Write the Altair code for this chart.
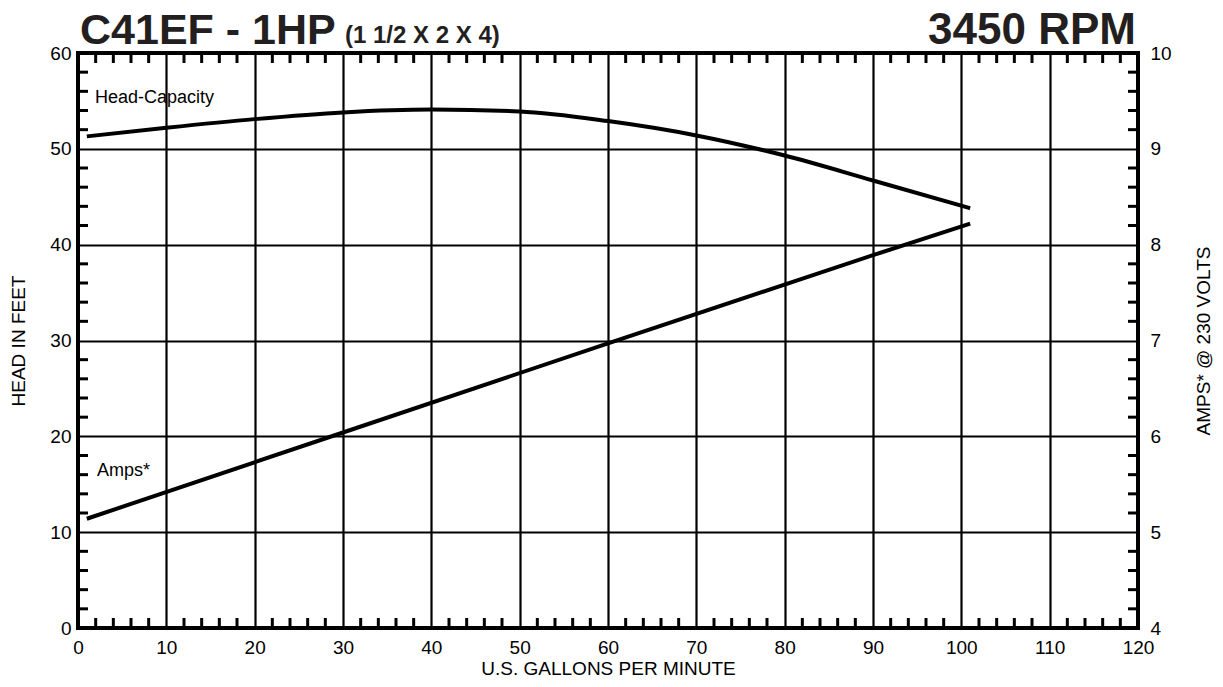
import altair as alt
import pandas as pd

# ---- data ----
head_gpm = [1, 10, 20, 30, 40, 50, 60, 70, 80, 90, 101]
head_ft = [51.3, 52.2, 53.1, 53.8, 54.1, 53.9, 52.9, 51.4, 49.3, 46.7, 43.8]

amps_gpm = [1, 30, 60, 90, 101]
amps_val = [5.14, 6.04, 6.97, 7.89, 8.22]

x_major = list(range(0, 121, 10))
y_major = list(range(0, 61, 10))
amps_major = [4, 5, 6, 7, 8, 9, 10]
x_minor = [v for v in range(0, 121, 2) if v % 10 != 0]
y_minor = [v for v in range(0, 61, 2) if v % 10 != 0]

title_main = "C41EF - 1HP"
title_sub = "(1 1/2 X 2 X 4)"
title_rpm = "3450 RPM"

W, H = 1060, 575
FONT = "Liberation Sans"

head_df = pd.DataFrame({"gpm": head_gpm, "head": head_ft})
amps_df = pd.DataFrame({"gpm": amps_gpm, "amps": amps_val})
xminor_df = pd.DataFrame({"gpm": x_minor})
yminor_df = pd.DataFrame({"head": y_minor})

xscale = alt.Scale(domain=[0, 120], nice=False, zero=False)
yscale = alt.Scale(domain=[0, 60], nice=False, zero=False)
ascale = alt.Scale(domain=[4, 10], nice=False, zero=False)

xaxis = alt.Axis(values=x_major, grid=True, gridColor="black", gridWidth=2.2,
                 gridOpacity=1, domain=False, ticks=False, labelPadding=10,
                 labelFontSize=19, labelFont=FONT, labelColor="black",
                 title="U.S. GALLONS PER MINUTE", titleFont=FONT,
                 titleFontSize=19, titleFontWeight="normal", titleColor="black",
                 titlePadding=2, labelFlush=False)
yaxis = alt.Axis(values=y_major, grid=True, gridColor="black", gridWidth=2.2,
                 gridOpacity=1, domain=False, ticks=False, labelPadding=7,
                 labelFontSize=19, labelFont=FONT, labelColor="black",
                 title="HEAD IN FEET", titleFont=FONT, titleFontSize=19,
                 titleFontWeight="normal", titleColor="black", titlePadding=21,
                 labelFlush=False)
aaxis = alt.Axis(values=amps_major, grid=False, domain=False, ticks=False,
                 labelPadding=12, labelFontSize=19, labelFont=FONT,
                 labelColor="black", title="AMPS* @ 230 VOLTS", titleFont=FONT,
                 titleFontSize=19, titleFontWeight="normal", titleColor="black",
                 titlePadding=42, titleAngle=270, orient="right",
                 labelFlush=False)

head_line = alt.Chart(head_df).mark_line(
    color="black", strokeWidth=4, interpolate="monotone"
).encode(
    x=alt.X("gpm:Q", scale=xscale, axis=xaxis),
    y=alt.Y("head:Q", scale=yscale, axis=yaxis),
)

rule_style = dict(color="black", strokeWidth=3)

x_bottom = alt.Chart(xminor_df).mark_rule(**rule_style).encode(
    x=alt.X("gpm:Q", scale=xscale), y=alt.value(H), y2=alt.value(H - 10))
x_top = alt.Chart(xminor_df).mark_rule(**rule_style).encode(
    x=alt.X("gpm:Q", scale=xscale), y=alt.value(0), y2=alt.value(10))
y_left = alt.Chart(yminor_df).mark_rule(**rule_style).encode(
    y=alt.Y("head:Q", scale=yscale), x=alt.value(0), x2=alt.value(10))
y_right = alt.Chart(yminor_df).mark_rule(**rule_style).encode(
    y=alt.Y("head:Q", scale=yscale), x=alt.value(W), x2=alt.value(W - 10))

lbl_df = pd.DataFrame({"t": ["Head-Capacity"]})
lbl_head = alt.Chart(lbl_df).mark_text(
    font=FONT, fontSize=18, align="left", baseline="middle", color="black"
).encode(text="t:N", x=alt.value(17), y=alt.value(45))
lbl_amps_df = pd.DataFrame({"t": ["Amps*"]})
lbl_amps = alt.Chart(lbl_amps_df).mark_text(
    font=FONT, fontSize=18, align="left", baseline="middle", color="black"
).encode(text="t:N", x=alt.value(19), y=alt.value(418))

t1 = alt.Chart(pd.DataFrame({"t": [title_main]})).mark_text(
    font=FONT, fontSize=43, fontWeight="bold", align="left",
    baseline="alphabetic", color="#231f20"
).encode(text="t:N", x=alt.value(2), y=alt.value(-9))
t2 = alt.Chart(pd.DataFrame({"t": [title_sub]})).mark_text(
    font=FONT, fontSize=24, fontWeight="bold", align="left",
    baseline="alphabetic", color="#231f20"
).encode(text="t:N", x=alt.value(267), y=alt.value(-10))
t3 = alt.Chart(pd.DataFrame({"t": [title_rpm]})).mark_text(
    font=FONT, fontSize=44, fontWeight="bold", align="right",
    baseline="alphabetic", color="#231f20"
).encode(text="t:N", x=alt.value(W - 2), y=alt.value(-9))

left_group = alt.layer(head_line, x_bottom, x_top, y_left, y_right,
                       lbl_head, lbl_amps, t1, t2, t3)

amps_line = alt.Chart(amps_df).mark_line(
    color="black", strokeWidth=4
).encode(
    x=alt.X("gpm:Q", scale=xscale, axis=xaxis),
    y=alt.Y("amps:Q", scale=ascale, axis=aaxis),
)

chart = alt.layer(left_group, amps_line).resolve_scale(
    y="independent"
).properties(
    width=W, height=H,
    padding={"left": 1, "top": 1, "right": 0, "bottom": 0},
    background="white",
).configure_view(stroke="black", strokeWidth=4)

chart.save("out.html", embed_options={"renderer": "svg", "actions": False})
